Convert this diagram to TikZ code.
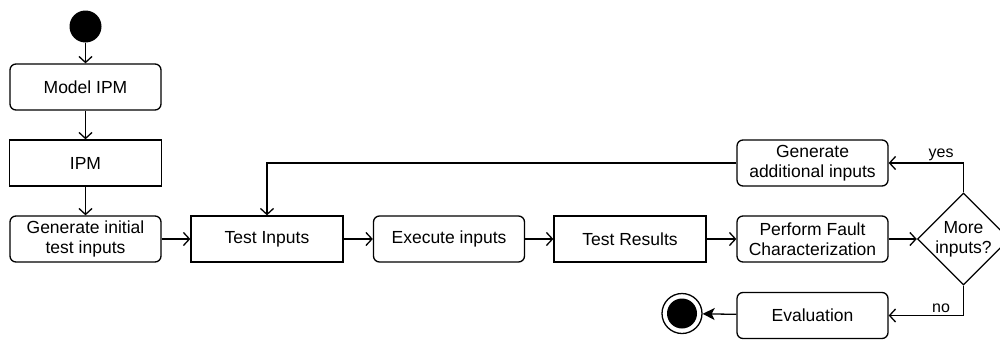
\documentclass[tikz,border=0pt]{standalone}
\usepackage{fontspec}
\setmainfont{Liberation Sans}
\usetikzlibrary{arrows.meta,shapes.geometric}
\begin{document}
\begin{tikzpicture}[x=1pt,y=-1pt,
  line width=1.3pt,
  font=\fontsize{17.5}{20}\selectfont,
  flow/.style={-{Straight Barb[length=6pt,width=13pt]}},
  finalarrow/.style={-{Stealth[length=12pt,width=12pt,inset=3pt]}},
  act/.style={draw, rounded corners=6pt, minimum width=151pt, minimum height=46pt, inner sep=0pt, align=center},
  obj/.style={draw, minimum width=152pt, minimum height=46pt, inner sep=0pt, align=center},
  choice/.style={draw, diamond, minimum width=90pt, minimum height=90pt, inner sep=0pt, align=center},
  lbl/.style={font=\fontsize{16}{18}\selectfont, inner sep=2pt}
]
\useasboundingbox (0,0) rectangle (1000,340);

% start and end states
\node[circle, fill=black, minimum size=32pt, inner sep=0pt] (start) at (85.5,26.5) {};
\node[circle, draw, line width=1.3pt, minimum size=40pt, inner sep=0pt] (stop) at (682,313.5) {};
\node[circle, fill=black, minimum size=30pt, inner sep=0pt] at (stop) {};

% left column
\node[act] (model) at (85.5,87) {Model IPM};
\node[obj] (ipm) at (85.5,163) {IPM};
\node[act] (geninit) at (85.5,239) {Generate initial\\test inputs};

% main row
\node[obj] (tin) at (267,239) {Test Inputs};
\node[act] (exec) at (449,239) {Execute inputs};
\node[obj] (tres) at (630,239) {Test Results};
\node[act] (fault) at (812.5,239) {Perform Fault\\Characterization};
\node[choice] (more) at (963.5,239) {More\\inputs?};

% feedback and exit
\node[act] (genadd) at (812.5,163) {Generate\\additional inputs};
\node[act] (eval) at (812.5,315.5) {Evaluation};

% connectors
\draw[flow] (start) -- (model);
\draw[flow] (model) -- (ipm);
\draw[flow] (ipm) -- (geninit);
\draw[flow] (geninit) -- (tin);
\draw[flow] (tin) -- (exec);
\draw[flow] (exec) -- (tres);
\draw[flow] (tres) -- (fault);
\draw[flow] (fault) -- (more);
\draw[flow] (more.north) |- (genadd.east) node[lbl, pos=0.65, above] {yes};
\draw[flow] (more.south) |- (eval.east) node[lbl, pos=0.65, above] {no};
\draw[flow] (genadd.west) -| (tin.north);
\draw[finalarrow] (eval) -- (stop);
\end{tikzpicture}
\end{document}
